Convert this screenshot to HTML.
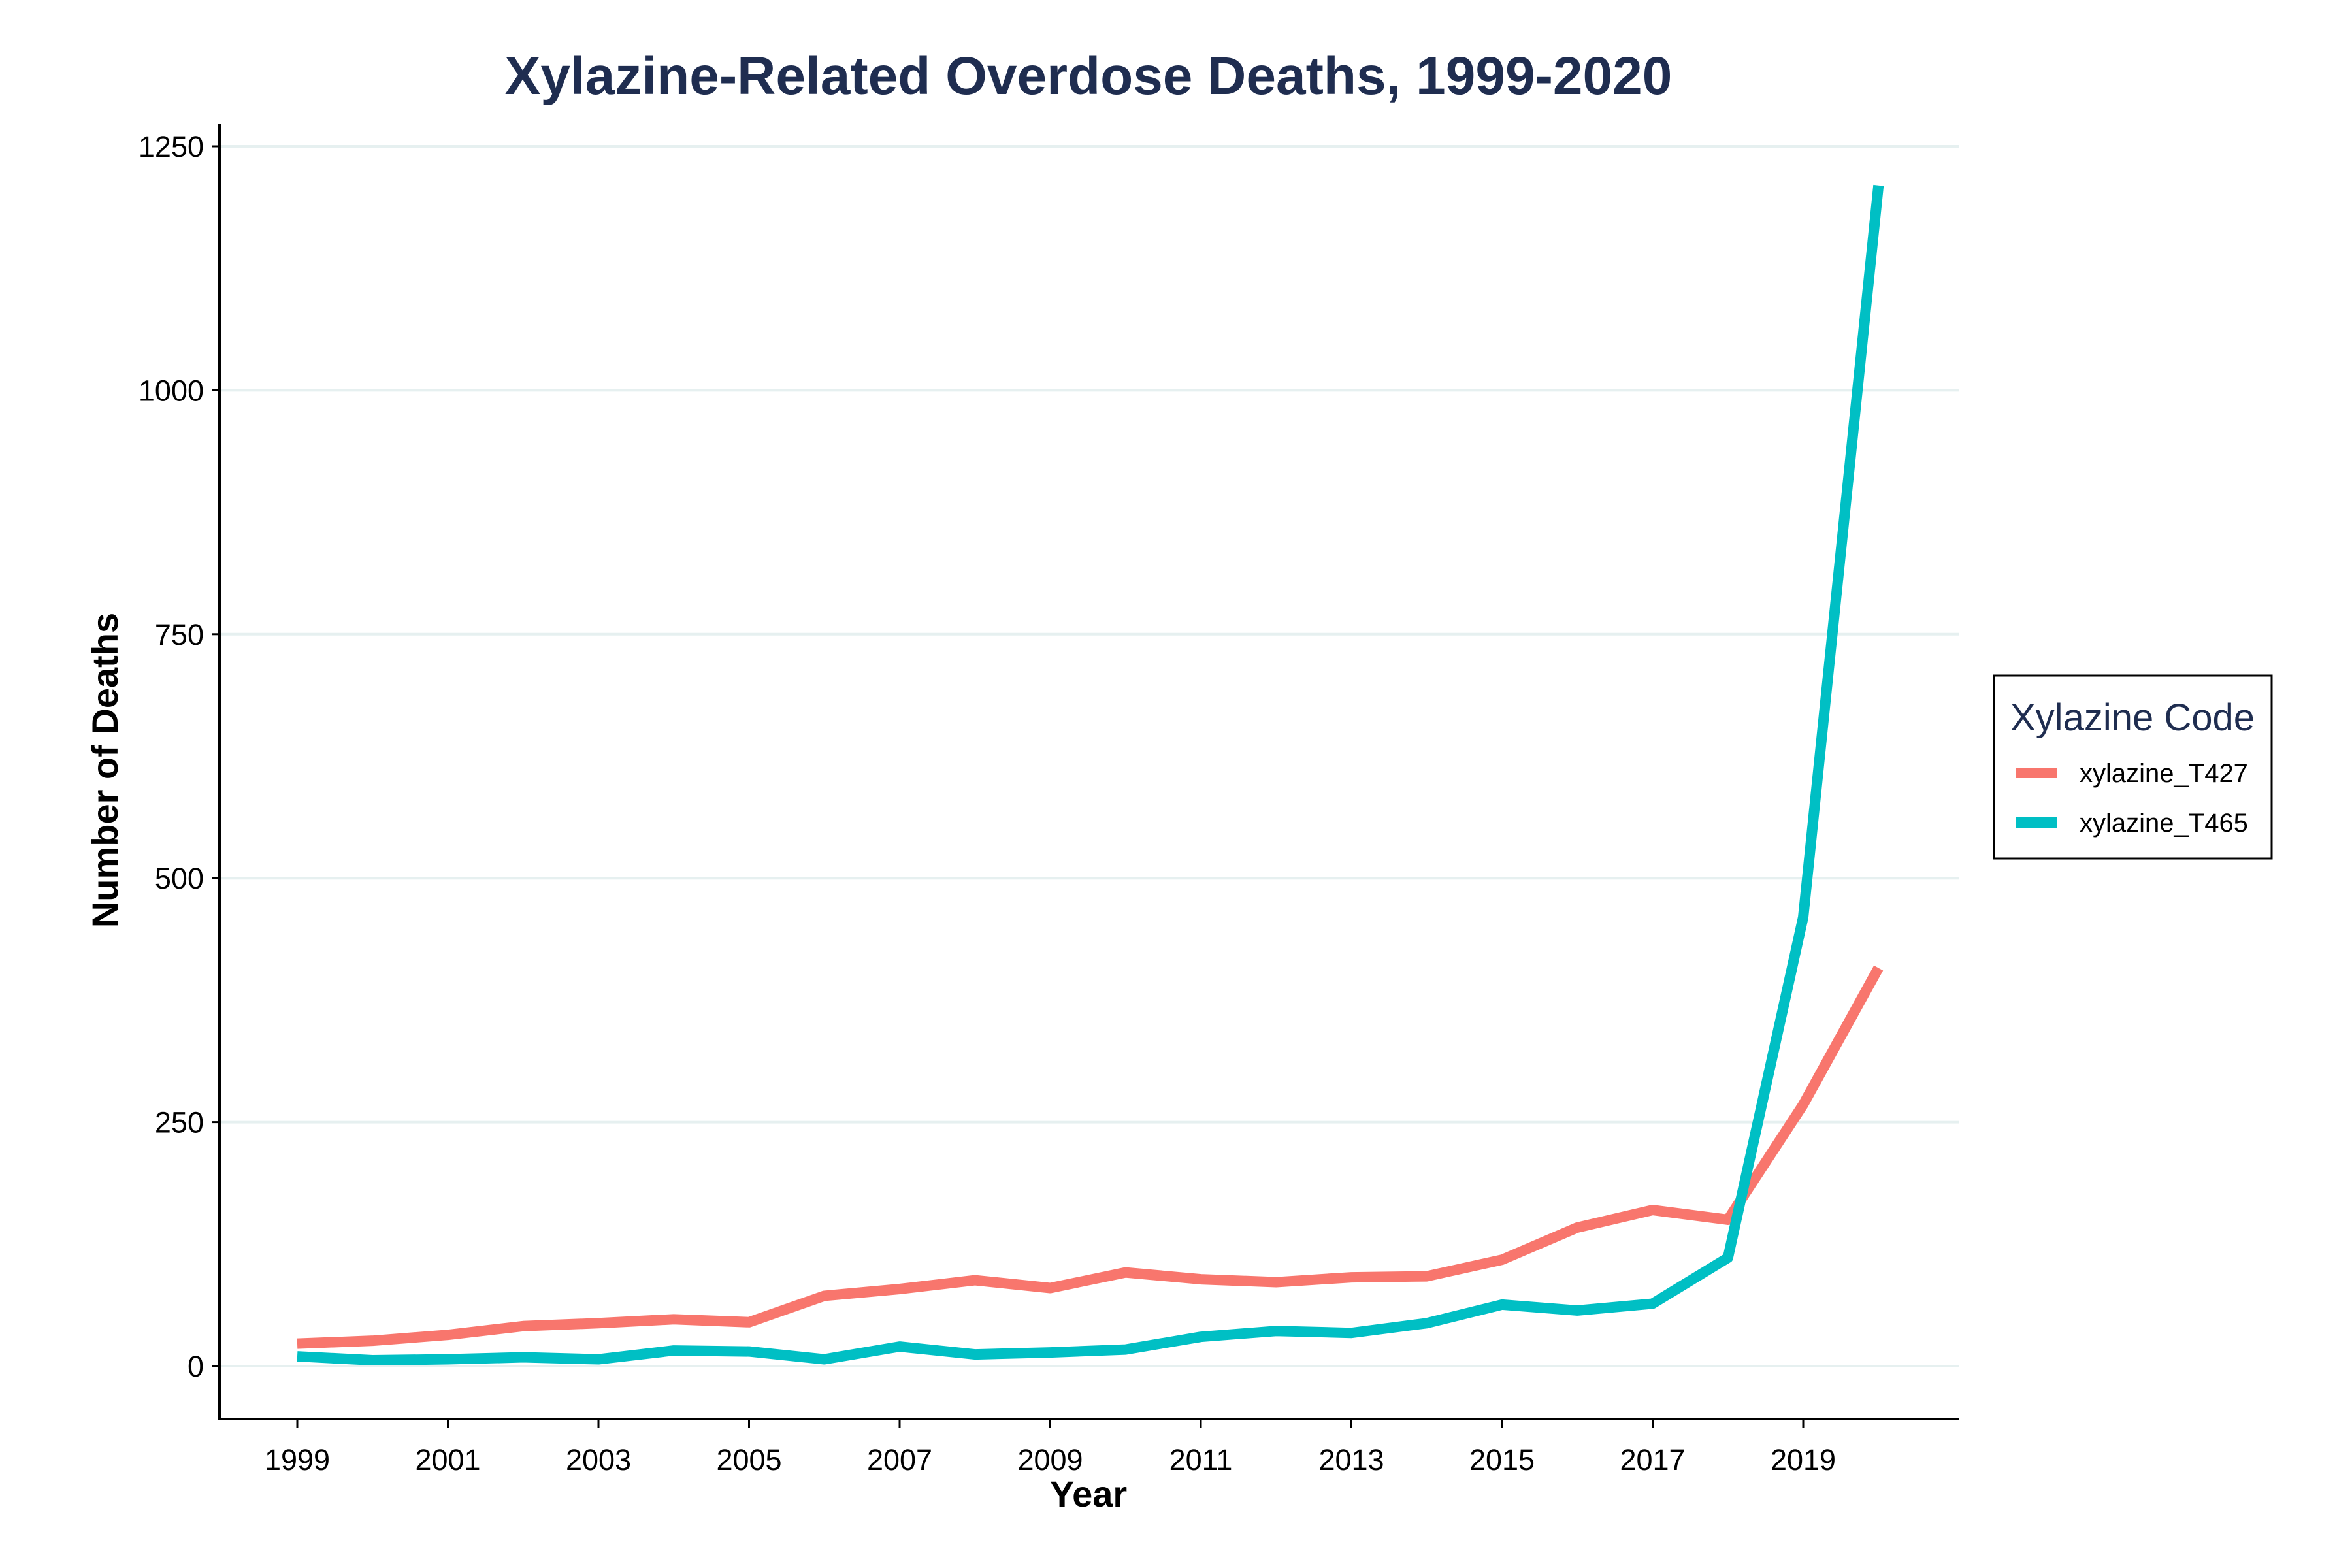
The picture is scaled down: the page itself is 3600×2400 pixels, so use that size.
<!DOCTYPE html>
<html><head><meta charset="utf-8"><style>
body{margin:0;background:#fff;}
svg{display:block;font-family:"Liberation Sans",Arial,sans-serif;}
</style></head><body>
<svg id="chart" width="3600" height="2400" viewBox="0 0 3600 2400" xmlns="http://www.w3.org/2000/svg">
<rect width="3600" height="2400" fill="#fff"/>
<text x="1666" y="144" text-anchor="middle" font-size="82" font-weight="bold" fill="#1f2d50">Xylazine-Related Overdose Deaths, 1999-2020</text>
<g id="grid"></g>
<g id="series"></g>
<g id="axes"></g>
<text x="1666" y="2306" text-anchor="middle" font-size="56" font-weight="bold" fill="#000">Year</text>
<text x="180" y="1179" text-anchor="middle" font-size="56" font-weight="bold" fill="#000" transform="rotate(-90 180 1179)">Number of Deaths</text>
<g>
<rect x="3052" y="1034" width="425" height="280" fill="#fff" stroke="#000" stroke-width="3"/>
<text x="3264" y="1118" text-anchor="middle" font-size="58" fill="#1f2d50">Xylazine Code</text>
<line x1="3086" y1="1183" x2="3148" y2="1183" stroke="#f8766d" stroke-width="16"/>
<text x="3183" y="1197" font-size="40" fill="#000">xylazine_T427</text>
<line x1="3086" y1="1259" x2="3148" y2="1259" stroke="#00bfc4" stroke-width="16"/>
<text x="3183" y="1273" font-size="40" fill="#000">xylazine_T465</text>
</g>
</svg>
<script>
const years=[1999,2000,2001,2002,2003,2004,2005,2006,2007,2008,2009,2010,2011,2012,2013,2014,2015,2016,2017,2018,2019,2020];
const t427=[23,26,32,41,44,48,45,72,79,88,80,96,89,86,91,92,109,142,160,150,268,408];
const t465=[10,6,7,9,7,16,15,7,20,12,14,17,30,36,34,44,63,57,64,111,460,1210];
const yTicks=[0,250,500,750,1000,1250];
const xTicks=[1999,2001,2003,2005,2007,2009,2011,2013,2015,2017,2019];
const NS="http://www.w3.org/2000/svg";
const L=336,R=2998,T=190,B=2172;
function xs(v){return 455+(v-1999)*(2760-455)/20;}
function ys(v){return 2091-v*(2091-224)/1250;}
function mk(p,tag,a){const e=document.createElementNS(NS,tag);for(const k in a)e.setAttribute(k,a[k]);p.appendChild(e);return e;}
const grid=document.getElementById('grid'),axes=document.getElementById('axes'),ser=document.getElementById('series');
yTicks.forEach(t=>{
 const g=mk(grid,'line',{x1:L,x2:R,y1:ys(t),y2:ys(t),stroke:'#e6f0f0','stroke-width':4});
 
 
 const tk=mk(axes,'line',{x1:L-12,x2:L,y1:ys(t),y2:ys(t),stroke:'#000','stroke-width':3});
 
 
 const lb=mk(axes,'text',{x:L-24,y:ys(t)+16,'text-anchor':'end','font-size':45,fill:'#000'});
 lb.textContent=t;
 
 
});
xTicks.forEach(t=>{
 const tk=mk(axes,'line',{x1:xs(t),x2:xs(t),y1:B,y2:B+14,stroke:'#000','stroke-width':3});
 
 
 const lb=mk(axes,'text',{x:xs(t),y:2250,'text-anchor':'middle','font-size':45,fill:'#000'});
 lb.textContent=t;
 
 
});
const ax=mk(axes,'path',{d:`M${L} ${T}V${B}H${R}`,fill:'none',stroke:'#000','stroke-width':4});


[[t427,'#f8766d','line-t427'],[t465,'#00bfc4','line-t465']].forEach(([d,c,n])=>{
 const p=mk(ser,'polyline',{points:d.map((v,i)=>xs(years[i])+','+ys(v)).join(' '),fill:'none',stroke:c,'stroke-width':16,'stroke-linejoin':'round'});
 
 
});
</script>
</body></html>
